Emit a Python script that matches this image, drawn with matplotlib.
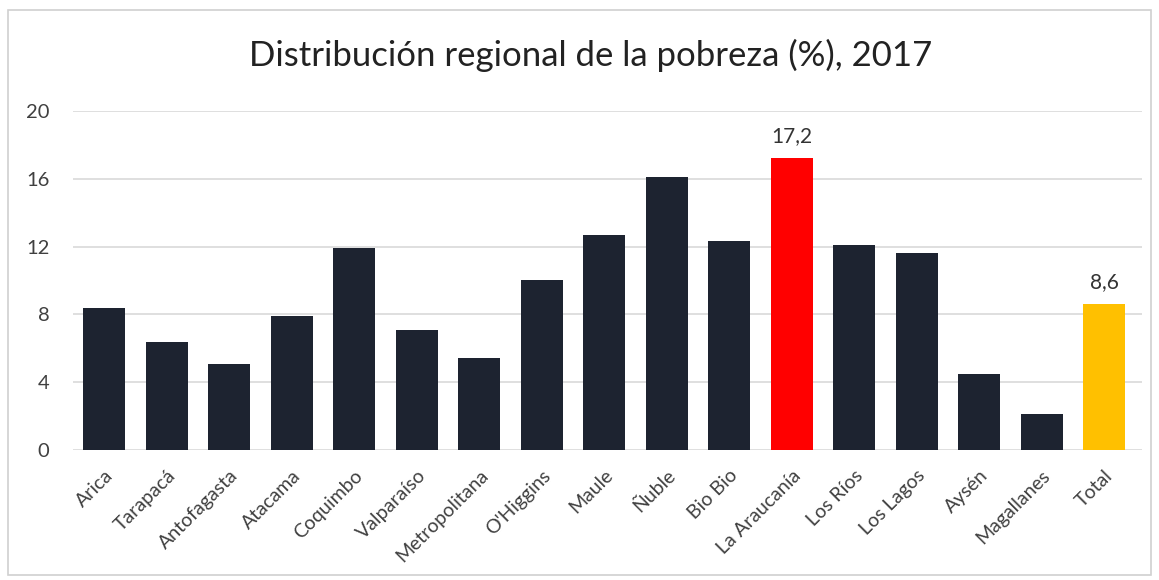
import matplotlib
matplotlib.use("Agg")
import matplotlib.pyplot as plt
from matplotlib.patches import Rectangle

regions = ["Arica", "Tarapacá", "Antofagasta", "Atacama", "Coquimbo", "Valparaíso",
           "Metropolitana", "O'Higgins", "Maule", "Ñuble", "Bio Bio", "La Araucanía",
           "Los Ríos", "Los Lagos", "Aysén", "Magallanes", "Total"]
values = [8.4, 6.4, 5.1, 7.9, 11.9, 7.1, 5.4, 10.0, 12.7, 16.1, 12.3, 17.2,
          12.1, 11.6, 4.5, 2.1, 8.6]
labelled = {"La Araucanía": "17,2", "Total": "8,6"}
yticks = [0, 4, 8, 12, 16, 20]

dark = "#1d2330"
colors = [dark] * len(regions)
colors[regions.index("La Araucanía")] = "#ff0000"
colors[regions.index("Total")] = "#ffc000"

plt.rcParams['font.family'] = ['Lato', 'DejaVu Sans']
fig = plt.figure(figsize=(11.59, 5.80), dpi=100)
fig.patches.append(Rectangle((0.007, 0.008), 0.986, 0.975, transform=fig.transFigure,
                             fill=False, edgecolor="#d0d0d0", linewidth=1.2))
ax = fig.add_axes([0.063, 0.224, 0.922, 0.585])
x = range(len(regions))
ax.bar(x, values, width=0.67, color=colors, zorder=3)
ax.set_ylim(0, 20)
ax.set_xlim(-0.5, len(regions) - 0.4)
ax.set_yticks(yticks)
ax.set_yticklabels([str(t) for t in yticks], fontsize=14.5, color="#404040")
ax.set_xticks(list(x))
ax.set_xticklabels(regions, rotation=45, ha="right", va="top", rotation_mode="anchor",
                   fontsize=14, color="#404040")
ax.tick_params(axis="y", length=0, pad=17)
ax.tick_params(axis="x", length=0, pad=12)
ax.grid(axis="y", color="#d9d9d9", linewidth=1.2, zorder=0)
for s in ax.spines.values():
    s.set_visible(False)
for i, (r, v) in enumerate(zip(regions, values)):
    if r in labelled:
        ax.text(i, v + 0.7, labelled[r], ha="center", va="bottom", fontsize=15, color="#333333")
fig.text(0.51, 0.905, "Distribución regional de la pobreza (%), 2017", ha="center", va="center",
         fontsize=25, color="#222222")
fig.savefig("out.png", dpi=100)
